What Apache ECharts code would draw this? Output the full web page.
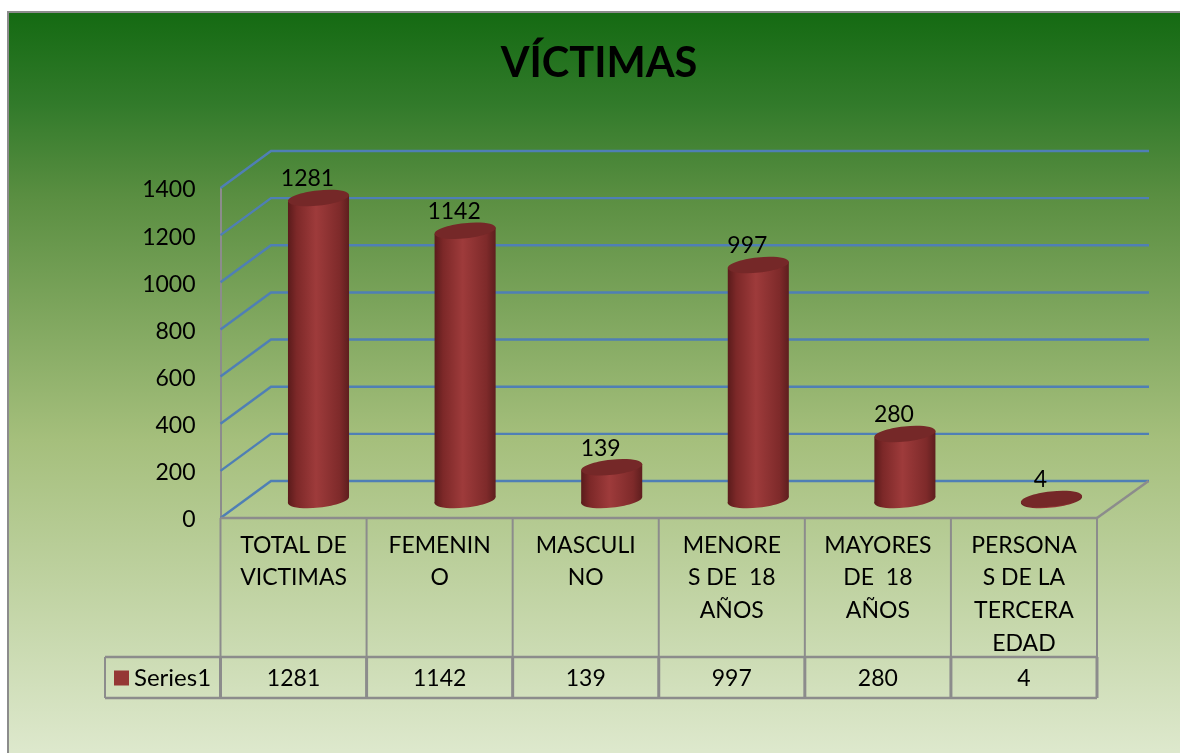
<!DOCTYPE html>
<html>
<head>
<meta charset="utf-8">
<style>html,body{margin:0;padding:0;background:#fff}#c{width:1180px;height:753px}</style>
<script src="https://cdn.jsdelivr.net/npm/echarts@6/dist/echarts.min.js"></script>
</head>
<body>
<div id="c"></div>
<script>
const titleText = 'VÍCTIMAS';
const seriesName = 'Series1';
const categories = ['TOTAL DE\nVICTIMAS', 'FEMENIN\nO', 'MASCULI\nNO', 'MENORE\nS DE  18\nAÑOS', 'MAYORES\nDE  18\nAÑOS', 'PERSONA\nS DE LA\nTERCERA\nEDAD'];
const values = [1281, 1142, 139, 997, 280, 4];
const tickValues = [0, 200, 400, 600, 800, 1000, 1200, 1400];

const FONT = 'Lato, Carlito, Calibri, sans-serif';
const FS = 23;
const GRAY = '#8c8c8c';
const BLUE = '#4f7fb5';
const DX = 50.5, DY = -37;
const TABLE_ROW = 139, TABLE_BOTTOM = 180, TABLE_LEFT = 105;

const chart = echarts.init(document.getElementById('c'));

function gridLine(params, api) {
  const p = api.coord([0, api.value(1)]);
  const cs = params.coordSys;
  const x0 = cs.x, x1 = cs.x + cs.width;
  return {
    type: 'polyline',
    shape: { points: [[x0, p[1]], [x0 + DX, p[1] + DY], [x1 + DX + 1.5, p[1] + DY]] },
    style: { stroke: BLUE, lineWidth: 2.4, fill: null }
  };
}

function tableCell(params, api) {
  const cs = params.coordSys;
  const i = params.dataIndex;
  const band = cs.width / categories.length;
  const y0 = cs.y + cs.height;
  const x = cs.x + band * (i + 1);
  const line = (a, b, c, d, w) => ({
    type: 'line', shape: { x1: a, y1: b, x2: c, y2: d },
    style: { stroke: GRAY, lineWidth: w || 2 }
  });
  const children = [line(x, y0, x, y0 + TABLE_ROW), line(x, y0 + TABLE_ROW, x, y0 + TABLE_BOTTOM, 3)];
  if (i === 0) {
    children.push(
      line(cs.x, y0, cs.x + cs.width, y0, 2.5),
      line(cs.x, y0, cs.x, y0 + TABLE_ROW),
      line(cs.x, y0 + TABLE_ROW, cs.x, y0 + TABLE_BOTTOM, 3),
      line(TABLE_LEFT, y0 + TABLE_ROW, cs.x + cs.width, y0 + TABLE_ROW, 2.5),
      line(TABLE_LEFT, y0 + TABLE_BOTTOM, cs.x + cs.width, y0 + TABLE_BOTTOM, 2.5),
      line(TABLE_LEFT, y0 + TABLE_ROW, TABLE_LEFT, y0 + TABLE_BOTTOM),
      line(cs.x + cs.width, y0, cs.x + cs.width + DX + 1, y0 + DY, 2.5)
    );
  }
  return { type: 'group', children };
}

function cylinder(params, api) {
  const idx = api.value(0), v = api.value(1);
  const top = api.coord([idx, v]);
  const base = api.coord([idx, 0]);
  const rx = 30.7, ry = 7.6, tilt = 6 * Math.PI / 180;
  const tx = rx * Math.cos(tilt), ty = rx * Math.sin(tilt);
  const body = new echarts.graphic.LinearGradient(0, 0, 1, 0, [
    { offset: 0, color: '#5a1b1b' },
    { offset: 0.14, color: '#7c2828' },
    { offset: 0.46, color: '#9e3b3b' },
    { offset: 0.85, color: '#7e2a2a' },
    { offset: 1, color: '#5e1e1e' }
  ]);
  return {
    type: 'group',
    children: [
      { type: 'ellipse', x: base[0], y: base[1], rotation: tilt, originX: 0, originY: 0,
        shape: { cx: 0, cy: 0, rx, ry }, style: { fill: body } },
      { type: 'polygon',
        shape: { points: [
          [top[0] - tx, top[1] + ty], [top[0] + tx, top[1] - ty],
          [base[0] + tx, base[1] - ty], [base[0] - tx, base[1] + ty]
        ] }, style: { fill: body } },
      { type: 'ellipse', x: top[0], y: top[1], rotation: tilt, originX: 0, originY: 0,
        shape: { cx: 0, cy: 0, rx, ry }, style: { fill: '#752828' } },
      { type: 'text', x: top[0] - 11, y: top[1] - 19,
        style: { text: String(v), fontSize: FS, fontFamily: FONT, fill: '#000', align: 'center', verticalAlign: 'middle' } }
    ]
  };
}

chart.setOption({
  animation: false,
  backgroundColor: '#ffffff',
  graphic: [{
    type: 'rect', z: -10, silent: true,
    shape: { x: 8, y: 12, width: 1190, height: 760 },
    style: {
      stroke: GRAY, lineWidth: 2,
      fill: new echarts.graphic.LinearGradient(0, 0, 0, 1, [
        { offset: 0, color: '#146a12' },
        { offset: 0.12, color: '#317a2a' },
        { offset: 0.247, color: '#5b8f42' },
        { offset: 0.563, color: '#a5bf7c' },
        { offset: 0.97, color: '#dde8cc' },
        { offset: 1, color: '#dde8cc' }
      ])
    }
  }],
  title: {
    text: titleText, left: 594, top: 38, textAlign: 'center',
    textStyle: { fontFamily: FONT, fontSize: 41.5, fontWeight: 'bold', color: '#000' }
  },
  legend: {
    data: [seriesName], left: 114, top: 666, itemWidth: 15, itemHeight: 15,
    icon: 'rect', selectedMode: false, padding: 0, itemGap: 0,
    textStyle: { fontFamily: FONT, fontSize: 24, color: '#000', padding: [0, 0, 0, 0] }
  },
  grid: [
    { left: 220.5, top: 188, width: 876.5, height: 330 },
    { left: 245.2, top: 170, width: 879.6, height: 330 }
  ],
  xAxis: [
    { type: 'category', gridIndex: 0, data: categories, position: 'bottom',
      axisLine: { show: false }, axisTick: { show: false },
      axisLabel: { interval: 0, margin: 11, fontFamily: FONT, fontSize: FS, color: '#000', lineHeight: 32.7, verticalAlign: 'top', align: 'center', hideOverlap: false } },
    { type: 'category', gridIndex: 0, data: values.map(String), position: 'bottom', offset: TABLE_ROW,
      axisLine: { show: false }, axisTick: { show: false },
      axisLabel: { interval: 0, margin: 10, fontFamily: FONT, fontSize: FS, color: '#000', hideOverlap: false } },
    { type: 'category', gridIndex: 1, data: categories, show: false }
  ],
  yAxis: [
    { type: 'value', gridIndex: 0, min: 0, max: 1400, interval: 200,
      axisLine: { show: true, lineStyle: { color: GRAY, width: 2 } }, axisTick: { show: false }, splitLine: { show: false },
      axisLabel: { margin: 25, fontFamily: FONT, fontSize: FS, color: '#000', verticalAlign: 'top', lineHeight: 4, formatter: v => String(v) } },
    { type: 'value', gridIndex: 1, min: 0, max: 1400, interval: 200, show: false }
  ],
  series: [
    { type: 'custom', xAxisIndex: 0, yAxisIndex: 0, silent: true, z: 1,
      data: tickValues.map(v => [0, v]), renderItem: gridLine },
    { type: 'custom', xAxisIndex: 0, yAxisIndex: 0, silent: true, z: 1,
      data: categories.map((c, i) => [i, 0]), renderItem: tableCell },
    { type: 'custom', name: seriesName, xAxisIndex: 2, yAxisIndex: 1, silent: true, z: 3,
      itemStyle: { color: '#953735' },
      data: values.map((v, i) => [i, v]), renderItem: cylinder }
  ]
});
</script>
</body>
</html>
